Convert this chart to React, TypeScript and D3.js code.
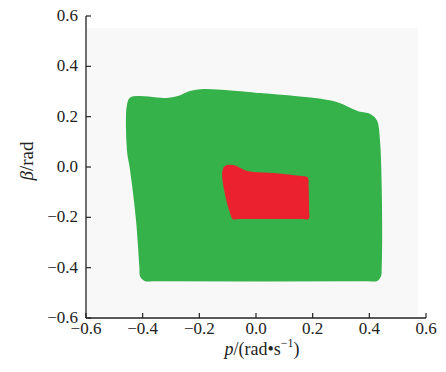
import * as d3 from 'd3';
import React from 'react';

// envelope boundaries: [p, beta]
const greenRegion: [number, number][] = [
  [-0.452, 0.246], [-0.441, 0.274], [-0.314, 0.27], [-0.275, 0.278],
  [-0.233, 0.298], [-0.187, 0.306], [0.014, 0.29], [0.272, 0.258],
  [0.357, 0.219], [0.402, 0.207], [0.424, 0.183], [0.434, 0.107],
  [0.441, -0.143], [0.44, -0.4], [0.438, -0.433], [0.427, -0.449],
  [0.39, -0.45], [-0.36, -0.45], [-0.392, -0.449], [-0.406, -0.433],
  [-0.408, -0.4], [-0.42, -0.211], [-0.441, -0.012], [-0.452, 0.067],
];
const redRegion: [number, number][] = [
  [-0.109, 0.0], [-0.081, 0.004], [-0.032, -0.02], [0.06, -0.028],
  [0.15, -0.039], [0.18, -0.044], [0.182, -0.07], [0.184, -0.18],
  [0.184, -0.203], [0.16, -0.203], [-0.06, -0.203], [-0.081, -0.203],
  [-0.087, -0.185], [-0.099, -0.143], [-0.116, -0.02],
];
const xTicks = [-0.6, -0.4, -0.2, 0.0, 0.2, 0.4, 0.6];
const yTicks = [-0.6, -0.4, -0.2, 0.0, 0.2, 0.4, 0.6];

const fmt = (v: number) => {
  const s = Math.abs(v).toFixed(1);
  return v < -1e-9 ? '\u2212' + s : s;
};

export default function App() {
  const width = 446;
  const height = 372;
  const x = d3.scaleLinear().domain([-0.6, 0.6]).range([86, 426]);
  const y = d3.scaleLinear().domain([-0.6, 0.6]).range([318, 16]);

  const line = d3.line<[number, number]>()
    .x(d => x(d[0]))
    .y(d => y(d[1]))
    .curve(d3.curveCatmullRomClosed.alpha(0.5));

  const font = '"Liberation Serif", "Times New Roman", serif';

  return (
    <svg width={width} height={height} style={{ position: 'absolute', left: 0, top: 0 }}>
      <rect x={0} y={0} width={width} height={height} fill="#fff" />
      {/* plot background */}
      <rect x={x(-0.6)} y={y(0.552)} width={x(0.572) - x(-0.6)} height={y(-0.592) - y(0.552)} fill="#f8f8f8" />
      <path d={line(greenRegion) ?? ''} fill="#35b24a" stroke="#35b24a" strokeWidth={2} strokeLinejoin="round" />
      <path d={line(redRegion) ?? ''} fill="#ec2130" stroke="#ec2130" strokeWidth={2} strokeLinejoin="round" />

      {/* axes */}
      <line x1={x(-0.6)} x2={x(0.6)} y1={y(-0.6)} y2={y(-0.6)} stroke="#222" strokeWidth={1.3} />
      <line x1={x(-0.6)} x2={x(-0.6)} y1={y(-0.6)} y2={y(0.6)} stroke="#222" strokeWidth={1.3} />
      {xTicks.map(t => (
        <g key={'x' + t}>
          <line x1={x(t)} x2={x(t)} y1={y(-0.6)} y2={y(-0.6) - 5} stroke="#222" strokeWidth={1.2} />
          <text x={x(t)} y={y(-0.6) + 16} textAnchor="middle" fontFamily={font} fontSize={17} fill="#222">{fmt(t)}</text>
        </g>
      ))}
      {yTicks.map(t => (
        <g key={'y' + t}>
          <line x1={x(-0.6)} x2={x(-0.6) + 5} y1={y(t)} y2={y(t)} stroke="#222" strokeWidth={1.2} />
          <text x={x(-0.6) - 8} y={y(t) + 5} textAnchor="end" fontFamily={font} fontSize={17} fill="#222">{fmt(t)}</text>
        </g>
      ))}

      <text x={(x(-0.6) + x(0.6)) / 2 + 6} y={355} textAnchor="middle" fontFamily={font} fontSize={18} fill="#222">
        <tspan fontStyle="italic">p</tspan>/(rad•s<tspan dy={-8} fontSize={12}>−1</tspan><tspan dy={8}>)</tspan>
      </text>
      <text transform={`translate(33,${y(0) - 6}) rotate(-90)`} textAnchor="middle" fontFamily={font} fontSize={19} fill="#222">
        <tspan fontStyle="italic">β</tspan>/rad
      </text>
    </svg>
  );
}
